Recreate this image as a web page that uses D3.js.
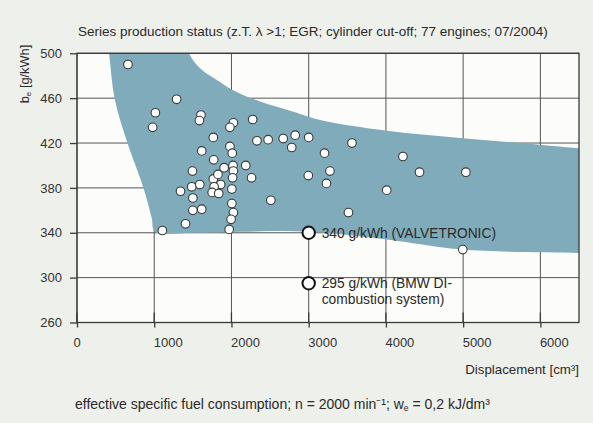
<!DOCTYPE html>
<html>
<head>
<meta charset="utf-8">
<script src="https://cdn.jsdelivr.net/npm/d3@7"></script>
<style>
  body { margin: 0; background: #eef0ec; }
  svg { display: block; font-family: "Liberation Sans", Arial, sans-serif; }
</style>
</head>
<body>
<div id="chart"></div>
<script>
// axis ticks
const dispTicks = [0, 1000, 2000, 3000, 4000, 5000, 6000];
const beTicks = [260, 300, 340, 380, 420, 460, 500];

// engines in series production (displacement cm3, b_e g/kWh)
const engineDisp = [660, 1290, 1015, 980, 1605, 1585, 2025, 1980, 2275, 1765,
  2330, 2475, 2670, 2825, 3000, 2780, 3560, 3205, 4220, 1615,
  1980, 2010, 1770, 1495, 1905, 2020, 2025, 2185, 3275, 4435,
  5035, 2995, 2260, 2015, 1765, 1825, 3230, 4010, 1485, 1590,
  1860, 1775, 2005, 1340, 1750, 1835, 1500, 2510, 2005, 1500,
  1615, 2025, 3515, 1995, 1405, 1105, 1970, 4995];
const engineBe = [490, 459, 447, 434, 445, 440, 438, 434, 441, 425,
  422, 423, 424, 427, 425, 416, 420, 411, 408, 413,
  417, 411, 405, 395, 398, 400, 395, 400, 395, 394,
  394, 391, 389, 389, 388, 392, 384, 378, 381, 383,
  383, 381, 379, 377, 376, 375, 371, 369, 366, 360,
  361, 358, 358, 352, 348, 342, 343, 325];

// highlighted engines
const hlDisp = [3000, 3000];
const hlBe = [340, 295];
const hlText = [["340 g/kWh (VALVETRONIC)"], ["295 g/kWh (BMW DI-", "combustion system)"]];

// scatter band outline (left edge down, bottom edge, top edge back)
const bandDisp = [330, 415, 486, 654, 861, 968, 1010, 1500, 2111, 3018, 4012, 5000, 6500, 6900,
  6900, 6500, 6020, 5000, 4012, 3148, 2802, 2370, 2012, 1810, 1593, 1450, 1330];
const bandBe = [540, 500, 460, 420, 380, 353, 341, 340, 341, 341, 334, 325, 322, 321,
  414, 415.4, 418.3, 424.3, 431, 440.6, 448, 457, 467.3, 476.2, 486.6, 500, 530];

const width = 593, height = 423;

const svg = d3.select("#chart").append("svg")
  .attr("width", width).attr("height", height);

const x = d3.scaleLinear().domain([0, 6500]).range([77, 579]);
const y = d3.scaleLinear().domain([260, 500]).range([322.5, 53.3]);

const [x0, x1] = x.range();
const [yb, yt] = y.range();

svg.append("rect").attr("width", width).attr("height", height).attr("fill", "#eef0ec");
svg.append("rect").attr("x", x0).attr("y", yt).attr("width", x1 - x0).attr("height", yb - yt)
  .attr("fill", "#fcfcfb");

svg.append("clipPath").attr("id", "plot")
  .append("rect").attr("x", x0).attr("y", yt).attr("width", x1 - x0).attr("height", yb - yt);

// grid
svg.append("g").selectAll("line").data(dispTicks).enter().append("line")
  .attr("x1", d => x(d)).attr("x2", d => x(d)).attr("y1", yt).attr("y2", yb)
  .attr("stroke", "#555").attr("stroke-width", 1);
svg.append("g").selectAll("line").data(beTicks).enter().append("line")
  .attr("x1", x0).attr("x2", x1).attr("y1", d => y(d)).attr("y2", d => y(d))
  .attr("stroke", "#555").attr("stroke-width", 1);

// band
const band = d3.line().curve(d3.curveCatmullRomClosed.alpha(0.5));
svg.append("path")
  .attr("d", band(bandDisp.map((d, i) => [x(d), y(bandBe[i])])))
  .attr("fill", "#80abba")
  .attr("clip-path", "url(#plot)");

// frame
svg.append("rect").attr("x", x0).attr("y", yt).attr("width", x1 - x0).attr("height", yb - yt)
  .attr("fill", "none").attr("stroke", "#3a3a3a").attr("stroke-width", 1.3);

// axes
const yAxis = svg.append("g").attr("transform", `translate(${x0},0)`)
  .call(d3.axisLeft(y).tickValues(beTicks).tickSize(7).tickPadding(8));
const xAxis = svg.append("g").attr("transform", `translate(0,${yb})`)
  .call(d3.axisBottom(x).tickValues(dispTicks).tickFormat(d3.format("d")).tickSize(5).tickPadding(10));
[yAxis, xAxis].forEach(g => {
  g.select(".domain").remove();
  g.selectAll("line").attr("stroke", "#3a3a3a").attr("stroke-width", 1.3);
  g.selectAll("text").attr("font-size", 13).attr("fill", "#333").attr("font-family", null);
});
xAxis.selectAll("text").attr("text-anchor", "start").attr("dx", d => d === 0 ? -4 : -1);
// ticks crossing the bottom axis
svg.append("g").selectAll("line").data(dispTicks).enter().append("line")
  .attr("x1", d => x(d)).attr("x2", d => x(d)).attr("y1", yb - 10).attr("y2", yb)
  .attr("stroke", "#3a3a3a").attr("stroke-width", 1.3);

// engines
svg.append("g").selectAll("circle").data(engineDisp).enter().append("circle")
  .attr("cx", d => x(d)).attr("cy", (d, i) => y(engineBe[i])).attr("r", 4.3)
  .attr("fill", "#fff").attr("stroke", "#3a3a3a").attr("stroke-width", 1.1);

svg.append("g").selectAll("circle").data(hlDisp).enter().append("circle")
  .attr("cx", d => x(d)).attr("cy", (d, i) => y(hlBe[i])).attr("r", 6.2)
  .attr("fill", "#fff").attr("stroke", "#111").attr("stroke-width", 2);

hlDisp.forEach((d, i) => {
  const t = svg.append("text").attr("x", x(d) + 13).attr("y", y(hlBe[i]) + 5)
    .attr("font-size", 13.8).attr("fill", "#2a2a2a");
  hlText[i].forEach((s, j) => t.append("tspan").attr("x", x(d) + 13).attr("dy", j ? 15.5 : 0).text(s));
});

// titles
svg.append("text").attr("x", 78).attr("y", 36).attr("font-size", 13.5).attr("fill", "#2a2a2a")
  .text("Series production status (z.T. λ >1; EGR; cylinder cut-off; 77 engines; 07/2004)");

const yl = svg.append("text").attr("transform", "translate(28.5,74) rotate(-90)")
  .attr("text-anchor", "middle").attr("font-size", 12.8).attr("fill", "#2a2a2a");
yl.append("tspan").text("b");
yl.append("tspan").attr("font-size", 8).attr("dy", 2).text("e");
yl.append("tspan").attr("dy", -2).text(" [g/kWh]");

svg.append("text").attr("x", 579).attr("y", 374).attr("text-anchor", "end")
  .attr("font-size", 13.3).attr("fill", "#2a2a2a").text("Displacement [cm³]");

const cap = svg.append("text").attr("x", 75).attr("y", 409).attr("font-size", 14).attr("fill", "#2a2a2a");
cap.append("tspan").text("effective specific fuel consumption; n = 2000 min⁻¹; w");
cap.append("tspan").attr("font-size", 8.5).attr("dy", 2).text("e");
cap.append("tspan").attr("dy", -2).text(" = 0,2 kJ/dm³");
</script>
</body>
</html>
